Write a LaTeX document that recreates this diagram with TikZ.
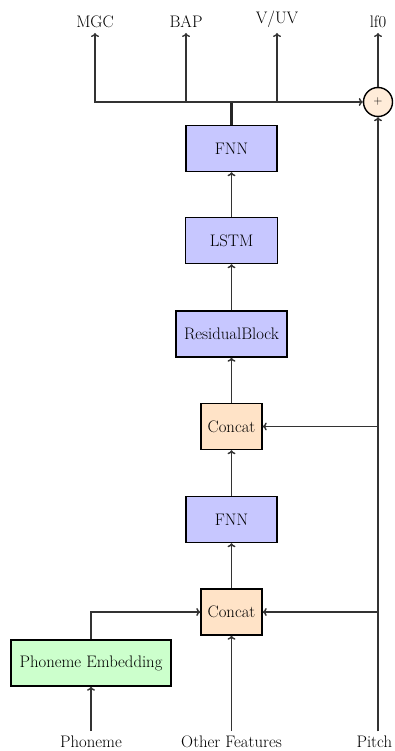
\documentclass[tikz,border=0pt]{standalone}
\usetikzlibrary{arrows.meta}
\begin{document}
\begin{tikzpicture}[x=1pt,y=-1pt,
  every node/.style={font=\fontsize{16.7}{20}\selectfont},
  blk/.style={draw=black, line width=1.4pt, minimum height=46pt, inner sep=4pt, text=black},
  nn/.style={blk, fill=blue!22},
  cat/.style={blk, fill=orange!22},
  emb/.style={blk, fill=green!20},
  lbl/.style={inner sep=5pt},
  link/.style={draw=black!80, line width=1.4pt, -{To[length=4pt,width=8pt]}},
]
\useasboundingbox (0,0) rectangle (394,751);

% main stack
\node[nn, minimum width=91pt] (fnnout) at (231.5,148.5) {FNN};
\node[nn, minimum width=92pt] (lstm) at (231.5,240.5) {LSTM};
\node[nn, minimum width=111pt] (res) at (231.5,334) {ResidualBlock};
\node[cat, minimum width=61pt] (cat2) at (231.5,426.5) {Concat};
\node[nn, minimum width=91pt] (fnnin) at (231.5,519.5) {FNN};
\node[cat, minimum width=61pt] (cat1) at (231.5,612) {Concat};
\node[emb, minimum width=160pt] (emb) at (91,663) {Phoneme Embedding};
\node[circle, draw=black, line width=1.4pt, fill=orange!15, minimum size=29pt, inner sep=0pt,
      font=\fontsize{12}{14}\selectfont] (sum) at (378,102) {$+$};

% outputs
\node[lbl, anchor=south] (mgc) at (95,33) {MGC};
\node[lbl, anchor=south] (bap) at (186,33) {BAP};
\node[lbl, anchor=south] (vuv) at (277,33) {V/UV};
\node[lbl, anchor=south] (lf0) at (378,33) {lf0};

% inputs
\node[lbl, anchor=north] (phon) at (91,731) {Phoneme};
\node[lbl, anchor=north] (other) at (231.5,731) {Other Features};
\node[lbl, anchor=north] (pitch) at (374.3,731) {Pitch};
\coordinate (pitchin) at (378,731);

% output bus
\coordinate (bus) at (231.5,102);
\draw[draw=black!85, line width=2.8pt] (fnnout.north) -- (bus);
\draw[link] (bus) -| (mgc.south);
\draw[link] (bus) -| (bap.south);
\draw[link] (bus) -| (vuv.south);
\draw[link] (bus) -- (sum.west);
\draw[link] (sum.north) -- (lf0.south);

% stack connections
\draw[link] (phon.north) -- (emb.south);
\draw[link] (emb.north) |- (cat1.west);
\draw[link] (other.north) -- (cat1.south);
\draw[link] (cat1.north) -- (fnnin.south);
\draw[link] (fnnin.north) -- (cat2.south);
\draw[link] (cat2.north) -- (res.south);
\draw[link] (res.north) -- (lstm.south);
\draw[link] (lstm.north) -- (fnnout.south);

% pitch feeds
\draw[link] (pitchin) -- (sum.south);
\draw[link] (pitchin) |- (cat1.east);
\draw[link] (pitchin) |- (cat2.east);
\end{tikzpicture}
\end{document}
